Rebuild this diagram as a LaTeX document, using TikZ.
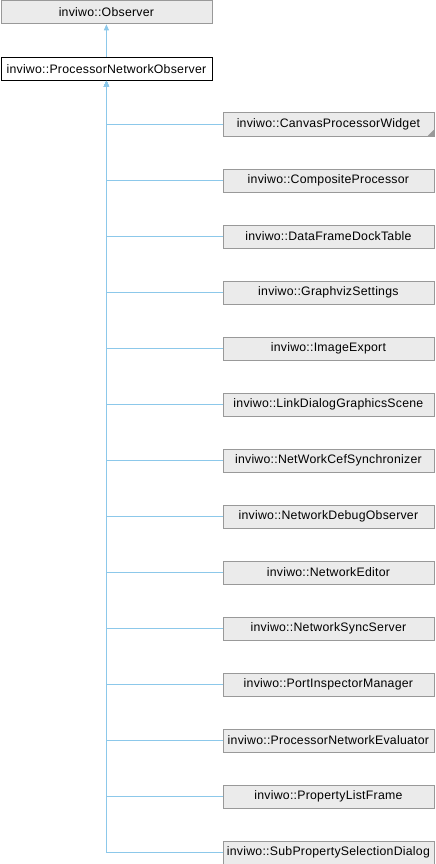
\documentclass[tikz,border=0pt]{standalone}
\usepackage{fontspec}
\setmainfont{Liberation Sans}[LetterSpace=2]
\usetikzlibrary{arrows.meta}
\definecolor{edgeblue}{HTML}{8CC8EA}
\definecolor{boxfill}{HTML}{EBEBEB}
\definecolor{boxline}{HTML}{999999}
\tikzset{
  x=1pt, y=-1pt,
  cls/.style={draw=boxline, fill=boxfill, line width=0.8pt, minimum width=211pt, minimum height=23pt, inner sep=0pt, font=\fontsize{12.3}{14}\selectfont, anchor=north west},
  cur/.style={cls, draw=black, fill=white},
  inh/.style={draw=edgeblue, line width=0.8pt, -{Triangle[length=6pt,width=5pt,fill=edgeblue]}}
}
\begin{document}
\begin{tikzpicture}
\useasboundingbox (0,0) rectangle (436,864);
\node[cls] (obs) at (0.5,0.5) {inviwo::Observer};
\node[cur] (pno) at (0.5,57) {inviwo::ProcessorNetworkObserver};
\draw[inh] (pno.north) -- (obs.south);
\foreach \name/\txt [count=\i from 0] in {
  c0/CanvasProcessorWidget,
  c1/CompositeProcessor,
  c2/DataFrameDockTable,
  c3/GraphvizSettings,
  c4/ImageExport,
  c5/LinkDialogGraphicsScene,
  c6/NetWorkCefSynchronizer,
  c7/NetworkDebugObserver,
  c8/NetworkEditor,
  c9/NetworkSyncServer,
  c10/PortInspectorManager,
  c11/ProcessorNetworkEvaluator,
  c12/PropertyListFrame,
  c13/SubPropertySelectionDialog}{
  \node[cls] (\name) at (222.5,{112.5+56*\i}) {inviwo::\txt};
  \draw[inh] (\name.west) -| (pno.south);
}
\fill[boxline] ([shift={(-0.5,-0.5)}]c0.south east) -- ++(0,-6) -- ++(-6,6) -- cycle;
\end{tikzpicture}
\end{document}
